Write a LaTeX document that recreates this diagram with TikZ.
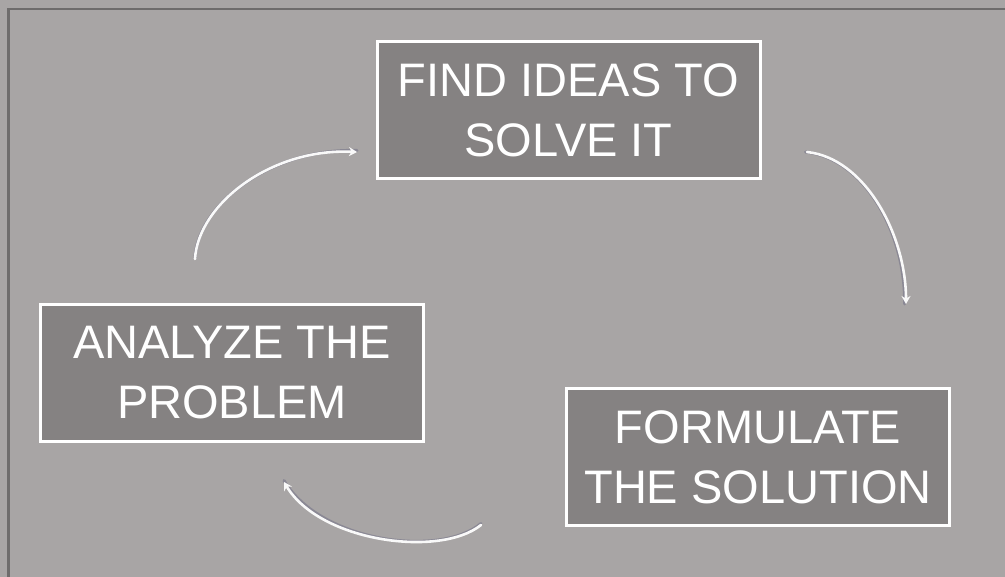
\documentclass[tikz,border=0pt]{standalone}
\usepackage{fontspec}
\setmainfont{Liberation Sans}
\usetikzlibrary{arrows.meta}
\definecolor{bgc}{HTML}{A8A5A5}
\definecolor{boxc}{HTML}{858282}
\definecolor{framec}{HTML}{6E6C6C}
\definecolor{shadc}{HTML}{8A8894}
\tikzset{
  stepbox/.style={draw=white, line width=3pt, fill=boxc, text=white,
    minimum width=383pt, minimum height=137pt, inner sep=0pt,
    align=center, font=\fontsize{47}{60}\selectfont},
  flowshadow/.style={draw=shadc, line width=3pt, line cap=round},
  flow/.style={draw=white!95!gray, line width=2.6pt, line cap=round,
    -{Stealth[length=8pt,width=9pt]}}
}
\begin{document}
\begin{tikzpicture}[x=1pt,y=-1pt]
\useasboundingbox (0,0) rectangle (1005,577);
\fill[bgc] (0,0) rectangle (1005,577);
\fill[framec] (7,8) rectangle (10,577);
\fill[framec] (7,8) rectangle (1005,10);

\node[stepbox] (find) at (568.5,110.5) {FIND IDEAS TO\\SOLVE IT};
\node[stepbox] (analyze) at (232,373) {ANALYZE THE\\PROBLEM};
\node[stepbox] (formulate) at (758,457) {FORMULATE\\THE SOLUTION};

\coordinate (a1s) at (195,259);
\coordinate (a1e) at (357,152);
\coordinate (a2s) at (807,152);
\coordinate (a2e) at (906,304);
\coordinate (a3s) at (481,525);
\coordinate (a3e) at (284,482);

\draw[flowshadow] ([yshift=1.5pt]a1s) .. controls (198,205) and (270,148) .. ([yshift=1.5pt]a1e);
\draw[flow] (a1s) .. controls (198,205) and (270,148) .. (a1e);

\draw[flowshadow] ([xshift=-1.5pt]a2s) .. controls (865,158) and (906,235) .. ([xshift=-1.5pt]a2e);
\draw[flow] (a2s) .. controls (865,158) and (906,235) .. (a2e);

\draw[flowshadow] ([yshift=1.5pt]a3s) .. controls (440,558) and (320,542) .. ([yshift=1.5pt]a3e);
\draw[flow] (a3s) .. controls (440,558) and (320,542) .. (a3e);
\end{tikzpicture}
\end{document}
